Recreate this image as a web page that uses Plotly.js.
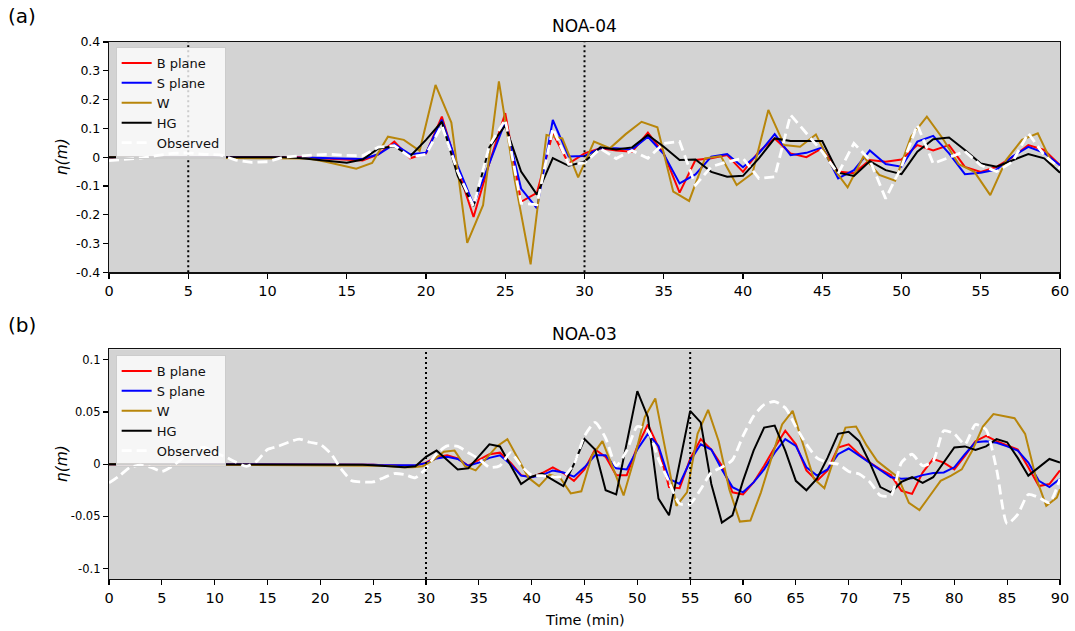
<!DOCTYPE html>
<html>
<head>
<meta charset="utf-8">
<script src="https://cdn.plot.ly/plotly-3.0.1.min.js"></script>
<style>html,body{margin:0;padding:0;background:#fff;}#chart{width:1075px;height:631px;}</style>
</head>
<body>
<div id="chart"></div>
<script>
// ---------- (a) NOA-04 ----------
const tTop = [0,1,2,3,4,5,6,7,8,9,10,11,12,13,14,15,16,17,18,19,20,21,22,23,24,25,26,27,28,29,30,31,32,33,34,35,36,37,38,39,40,41,42,43,44,45,46,47,48,49,50,51,52,53,54,55,56,57,58,59,60];
const bTop = [
0,0,0,0,0,0,0,0,0,0,
0,0,0,-0.003,-0.006,-0.01,-0.012,0.01,0.054,-0.004,
0.013,0.141,-0.04,-0.208,-0.02,0.153,-0.155,-0.124,0.083,-0.022,
0.013,0.031,0.023,0.019,0.085,0.013,-0.123,-0.01,-0.004,0.007,
-0.051,0.019,0.065,0.013,0.0,0.031,-0.05,-0.056,-0.01,-0.016,
-0.008,0.042,0.023,0.042,-0.034,-0.051,-0.034,0.0,0.042,0.025,
-0.028];
const sTop = [
0,0,0,0,0,0,0,0,0,0,
0,0,0,-0.002,-0.004,-0.006,-0.006,0.01,0.045,0.01,
0.015,0.13,-0.03,-0.165,-0.02,0.123,-0.109,-0.178,0.129,0.002,
0.004,0.031,0.031,0.027,0.071,0.011,-0.091,-0.06,0.002,0.011,
-0.035,0.013,0.08,0.007,0.015,0.034,-0.074,-0.045,0.023,-0.024,
-0.033,0.054,0.074,0.013,-0.059,-0.054,-0.043,0.002,0.036,0.015,
-0.028];
const hgTop = [
0,0,0,0,0,0,0,0,0,0,
0,0,-0.003,-0.008,-0.014,-0.019,-0.008,0.03,0.038,0.003,
0.06,0.123,-0.065,-0.17,0.035,0.11,-0.05,-0.13,-0.003,-0.03,
-0.016,0.034,0.027,0.034,0.077,0.036,-0.01,-0.008,-0.051,-0.068,
-0.065,-0.004,0.065,0.056,0.056,0.056,-0.054,-0.065,-0.014,-0.045,
-0.059,0.019,0.062,0.068,0.025,-0.022,-0.033,-0.01,0.011,-0.004,
-0.054];
const obsTop = [
-0.012,-0.008,-0.003,0.005,0.013,0.015,0.01,0.008,-0.01,-0.018,
-0.016,0.0,0.005,0.008,0.01,0.006,0.005,0.035,0.04,0.0,
0.01,0.11,-0.05,-0.17,0.04,0.13,-0.16,-0.165,0.1,-0.025,
-0.02,0.03,-0.005,0.023,-0.004,0.048,0.054,-0.097,-0.033,-0.016,
-0.004,-0.074,-0.068,0.147,0.083,0.019,-0.057,0.048,-0.01,-0.144,
-0.033,0.112,-0.022,0.0,0.02,-0.028,-0.05,-0.016,0.083,0.007,
-0.039];
const tWTop = [0,12.6,13.6,14.6,15.6,16.6,17.6,18.6,19.6,
20.6,21.6,22.6,23.6,24.6,25.6,26.6,27.6,28.6,29.6,
30.6,31.6,32.6,33.6,34.6,35.6,36.6,37.6,38.6,39.6,
40.6,41.6,42.6,43.6,44.6,45.6,46.6,47.6,48.6,49.6,
50.6,51.6,52.6,53.6,54.6,55.6,56.6,57.6,58.6,59.6];
const wTop = [0,-0.005,-0.015,-0.028,-0.04,-0.02,0.071,0.06,0.022,
0.251,0.12,-0.298,-0.167,0.263,-0.08,-0.372,0.077,0.065,-0.07,
0.054,0.031,0.08,0.123,0.104,-0.12,-0.152,-0.004,0.004,-0.097,
-0.056,0.164,0.042,0.036,0.079,-0.031,-0.105,0.002,-0.062,-0.082,
0.071,0.141,0.065,-0.024,-0.051,-0.132,-0.01,0.06,0.083,-0.033];

// ---------- (b) NOA-03 ----------
const tBot = [0,1,2,3,4,5,6,7,8,9,10,11,12,13,14,15,16,17,18,19,20,21,22,23,24,25,26,27,28,29,30,31,32,33,34,35,36,37,38,39,40,41,42,43,44,45,46,47,48,49,50,51,52,53,54,55,56,57,58,59,60,61,62,63,64,65,66,67,68,69,70,71,72,73,74,75,76,77,78,79,80,81,82,83,84,85,86,87,88,89,90];
const bBot = [
0,0,0,0,0,0,0,0,0,0,
0,0,0,0,0,0,0,0,0,0,
0,0,0,0,0,-0.0005,-0.001,-0.0015,-0.0015,-0.0015,
0.0015,0.007,0.0085,0.0055,-0.0015,0.004,0.0095,0.011,0.0015,-0.0105,
-0.0125,-0.0085,-0.003,-0.0085,-0.016,-0.005,0.014,0.007,-0.0105,-0.0105,
0.017,0.038,0.016,-0.022,-0.023,0.005,0.024,0.014,-0.0015,-0.027,
-0.029,-0.0175,-0.0015,0.016,0.032,0.019,-0.006,-0.016,-0.006,0.016,
0.019,0.0095,0.0015,-0.005,-0.0105,-0.0255,-0.0285,-0.008,0.005,0.0015,
-0.005,0.008,0.022,0.027,0.022,0.018,0.014,-0.003,-0.021,-0.019,
-0.006];
const sBot = [
0,0,0,0,0,0,0,0,0,0,
0,0,0,0,0,0,0,0,0,0,
0,0,0,0,0,-0.0005,-0.001,-0.001,-0.001,-0.001,
0.001,0.0055,0.007,0.005,-0.0015,0.0015,0.006,0.0085,0,-0.011,
-0.0125,-0.0105,-0.006,-0.008,-0.012,-0.003,0.0085,0.0085,-0.004,-0.005,
0.014,0.029,0.0175,-0.014,-0.019,0.003,0.019,0.014,-0.005,-0.022,
-0.027,-0.0175,-0.005,0.011,0.024,0.0175,-0.003,-0.011,-0.005,0.0095,
0.015,0.008,0.0015,-0.006,-0.0125,-0.014,-0.0135,-0.0105,-0.0085,-0.008,
-0.003,0.0095,0.021,0.022,0.0205,0.017,0.013,0.0015,-0.016,-0.022,
-0.014];
const hgBot = [
0,0,0,0,0,0,0,0,0,0,
0,0,0,0,0,0,0,0,0,0,
0,0,0,0,-0.0005,-0.001,-0.0015,-0.002,-0.003,-0.002,
0.007,0.013,0.004,-0.005,-0.004,0.007,0.019,0.017,-0.0015,-0.019,
-0.012,-0.009,-0.015,-0.021,0.0,0.024,0.014,-0.025,-0.029,0.02,
0.07,0.045,-0.033,-0.049,0.0,0.051,0.04,-0.019,-0.056,-0.049,
-0.016,0.013,0.035,0.037,0.013,-0.016,-0.025,-0.014,0.006,0.029,
0.031,0.022,0.0015,-0.022,-0.027,-0.017,-0.0125,-0.018,-0.0125,0.0015,
0.016,0.017,0.0135,0.017,0.024,0.021,0.006,-0.011,-0.003,0.005,
0.0015];
const obsBot = [
-0.018,-0.011,-0.003,-0.001,-0.003,-0.007,-0.002,0.006,0.014,0.016,
0.011,0.007,0.002,-0.002,0.003,0.014,0.017,0.021,0.024,0.021,
0.019,0.01,-0.005,-0.016,-0.017,-0.017,-0.013,-0.009,-0.01,-0.013,
-0.004,0.01,0.0175,0.017,0.011,0.005,-0.003,-0.0015,0.011,-0.0015,
-0.0105,-0.011,-0.012,-0.012,0.0,0.027,0.04,0.025,-0.0015,0.013,
0.036,0.032,0.005,-0.017,-0.038,-0.038,-0.024,-0.008,-0.003,0.004,
0.027,0.046,0.057,0.06,0.054,0.036,0.019,0.006,0.0015,0.0,
-0.007,-0.0095,-0.017,-0.03,-0.03,0.0015,0.0095,-0.0015,0.003,0.032,
0.029,0.019,0.038,0.033,-0.005,-0.057,-0.048,-0.029,-0.032,-0.037,
-0.014];
const tWBot = [0,24.7,25.7,26.7,27.7,28.7,29.7,
30.7,31.7,32.7,33.7,34.7,35.7,36.7,37.7,38.7,39.7,
40.7,41.7,42.7,43.7,44.7,45.7,46.7,47.7,48.7,49.7,
50.7,51.7,52.7,53.7,54.7,55.7,56.7,57.7,58.7,59.7,
60.7,61.7,62.7,63.7,64.7,65.7,66.7,67.7,68.7,69.7,
70.7,71.7,72.7,73.7,74.7,75.7,76.7,77.7,78.7,79.7,
80.7,81.7,82.7,83.7,84.7,85.7,86.7,87.7,88.7,89.7,90];
const wBot = [0,-0.001,-0.0015,-0.002,-0.003,-0.003,-0.002,
0.004,0.012,0.013,-0.002,-0.006,0.006,0.017,0.024,0.006,-0.013,
-0.021,-0.01,-0.013,-0.028,-0.026,0.008,0.022,-0.005,-0.03,0.005,
0.045,0.063,0.012,-0.04,-0.027,0.029,0.052,0.022,-0.024,-0.055,
-0.054,-0.027,0.006,0.038,0.051,0.019,-0.014,-0.023,0.008,0.035,
0.036,0.018,0.003,-0.005,-0.013,-0.037,-0.044,-0.03,-0.016,-0.011,
-0.005,0.013,0.036,0.048,0.046,0.044,0.029,-0.012,-0.04,-0.032,
-0.024];

// ticks, labels, markers
const xTicksTop = [0,5,10,15,20,25,30,35,40,45,50,55,60];
const xTicksBot = [0,5,10,15,20,25,30,35,40,45,50,55,60,65,70,75,80,85,90];
const yTicksTop = [0.4,0.3,0.2,0.1,0,-0.1,-0.2,-0.3,-0.4];
const yTextTop = ['0.4','0.3','0.2','0.1','0','-0.1','-0.2','-0.3','-0.4'];
const yTicksBot = [0.1,0.05,0,-0.05,-0.1];
const yTextBot = ['0.1','0.05','0','-0.05','-0.1'];
const markTop = [5,30];
const markBot = [30,55];
const seriesNames = ['B plane','S plane','W','HG','Observed'];
const seriesColors = ['#ff0000','#0000ff','#b8860b','#000000','#ffffff'];

function line(x,y,i,xa,ya,leg,show){
  const obs = i===4;
  return {x:x,y:y,type:'scatter',mode:'lines',name:seriesNames[i],
    xaxis:xa,yaxis:ya,legend:leg,showlegend:show,
    line:{color:seriesColors[i],width:obs?2.8:2,dash:obs?'10px,5px':'solid',
      shape:(obs&&ya==='y2')?'spline':'linear',smoothing:0.6}};
}
const traces = [
  line(tTop,bTop,0,'x','y','legend',true),
  line(tTop,sTop,1,'x','y','legend',true),
  line(tWTop,wTop,2,'x','y','legend',true),
  line(tTop,hgTop,3,'x','y','legend',true),
  line(tTop,obsTop,4,'x','y','legend',true),
  line(tBot,bBot,0,'x2','y2','legend2',true),
  line(tBot,sBot,1,'x2','y2','legend2',true),
  line(tWBot,wBot,2,'x2','y2','legend2',true),
  line(tBot,hgBot,3,'x2','y2','legend2',true),
  line(tBot,obsBot,4,'x2','y2','legend2',true)
];

const shapes = [];
markTop.forEach(v=>shapes.push({type:'line',xref:'x',yref:'y domain',x0:v,x1:v,y0:0,y1:1,
  line:{color:'black',width:2,dash:'2px,3px'},layer:'above'}));
markBot.forEach(v=>shapes.push({type:'line',xref:'x2',yref:'y2 domain',x0:v,x1:v,y0:0,y1:1,
  line:{color:'black',width:2,dash:'2px,3px'},layer:'above'}));

const axisCommon = {ticks:'outside',ticklen:5,tickwidth:1.2,tickcolor:'black',showline:true,mirror:true,
  linecolor:'#111',linewidth:1.2,showgrid:false,zeroline:false,fixedrange:true};
const legCommon = {xanchor:'left',yanchor:'top',bgcolor:'rgba(255,255,255,0.8)',bordercolor:'#cccccc',
  borderwidth:1,font:{size:13,color:'#111'},itemwidth:30,tracegroupgap:0};

const layout = {
  width:1075,height:631,margin:{l:109,r:15,t:42,b:52},
  paper_bgcolor:'white',plot_bgcolor:'#d3d3d3',
  font:{family:'DejaVu Sans, sans-serif',size:13,color:'black'},
  xaxis:Object.assign({},axisCommon,{domain:[0,1],anchor:'y',range:[0,60],tickmode:'array',tickvals:xTicksTop,tickfont:{size:14.5,color:'black'}}),
  yaxis:Object.assign({},axisCommon,{domain:[0.5711,1],anchor:'x',range:[-0.4,0.4],tickmode:'array',tickvals:yTicksTop,ticktext:yTextTop,tickfont:{size:12.5,color:'black'}}),
  xaxis2:Object.assign({},axisCommon,{domain:[0,1],anchor:'y2',range:[0,90],tickmode:'array',tickvals:xTicksBot,tickfont:{size:14.5,color:'black'}}),
  yaxis2:Object.assign({},axisCommon,{domain:[0,0.4277],anchor:'x2',range:[-0.11,0.11],tickmode:'array',tickvals:yTicksBot,ticktext:yTextBot,tickfont:{size:11.5,color:'black'}}),
  legend:Object.assign({},legCommon,{x:0.007,y:0.9907}),
  legend2:Object.assign({},legCommon,{x:0.007,y:0.4171}),
  shapes:shapes,
  annotations:[
    {text:'NOA-04',xref:'paper',yref:'paper',x:0.5,y:1.0298,xanchor:'center',yanchor:'middle',showarrow:false,font:{size:17}},
    {text:'NOA-03',xref:'paper',yref:'paper',x:0.5,y:0.4562,xanchor:'center',yanchor:'middle',showarrow:false,font:{size:17}},
    {text:'(a)',xref:'paper',yref:'paper',x:-0.0915,y:1.0484,xanchor:'center',yanchor:'middle',showarrow:false,font:{size:20}},
    {text:'(b)',xref:'paper',yref:'paper',x:-0.0915,y:0.473,xanchor:'center',yanchor:'middle',showarrow:false,font:{size:20}},
    {text:'<i>η(m)</i>',xref:'paper',yref:'paper',x:-0.0494,y:0.7855,xanchor:'center',yanchor:'middle',textangle:-90,showarrow:false,font:{size:15.5}},
    {text:'<i>η(m)</i>',xref:'paper',yref:'paper',x:-0.0494,y:0.2139,xanchor:'center',yanchor:'middle',textangle:-90,showarrow:false,font:{size:15.5}},
    {text:'Time (min)',xref:'paper',yref:'paper',x:0.5,y:-0.0763,xanchor:'center',yanchor:'middle',showarrow:false,font:{size:14.5}}
  ]
};
Plotly.newPlot('chart',traces,layout,{displayModeBar:false,staticPlot:true});
</script>
</body>
</html>
